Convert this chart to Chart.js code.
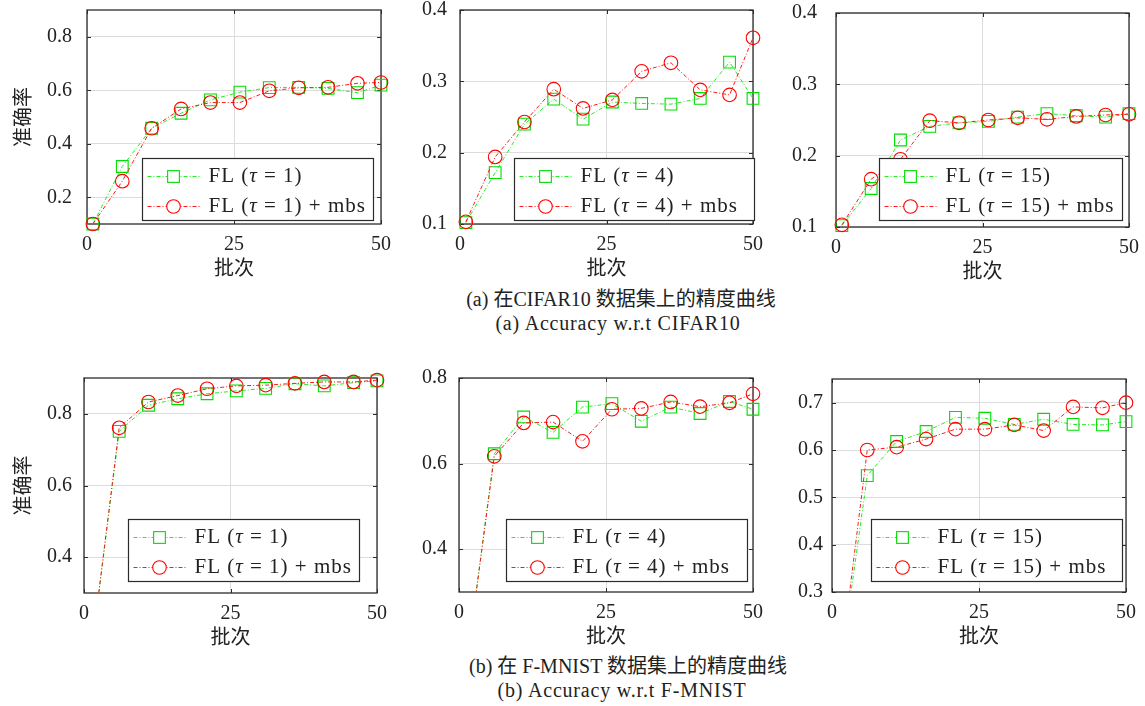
<!DOCTYPE html>
<html><head><meta charset="utf-8">
<script src="https://cdn.jsdelivr.net/npm/chart.js@4.4.1/dist/chart.umd.min.js"></script>
<style>
html,body{margin:0;padding:0;background:#fff;width:1145px;height:706px;overflow:hidden;position:relative}
canvas{position:absolute}
.cap{position:absolute;width:600px;text-align:center;font-size:20px;font-family:'Liberation Serif','Noto Sans CJK SC',serif;color:#222;line-height:24px;white-space:nowrap}
.cap.en{letter-spacing:0.8px}
</style></head><body>
<div class="cap" style="left:321px;top:287px">(a) 在CIFAR10 数据集上的精度曲线</div>
<div class="cap en" style="left:318px;top:311px">(a) Accuracy w.r.t CIFAR10</div>
<div class="cap" style="left:328px;top:654px">(b) 在 F-MNIST 数据集上的精度曲线</div>
<div class="cap en" style="left:322px;top:678px">(b) Accuracy w.r.t F-MNIST</div>
<script>
// ---------- data ----------
const batches = [1, 6, 11, 16, 21, 26, 31, 36, 41, 46, 50];
const xTicks = [0, 25, 50];

const cifarTau1     = [0.100, 0.315, 0.458, 0.514, 0.564, 0.593, 0.610, 0.611, 0.607, 0.591, 0.619];
const cifarTau1Mbs  = [0.100, 0.260, 0.458, 0.530, 0.554, 0.554, 0.598, 0.609, 0.611, 0.626, 0.629];
const cifarTau4     = [0.102, 0.172, 0.240, 0.275, 0.247, 0.271, 0.269, 0.268, 0.276, 0.327, 0.276];
const cifarTau4Mbs  = [0.103, 0.194, 0.243, 0.289, 0.262, 0.274, 0.314, 0.326, 0.288, 0.281, 0.361];
const cifarTau15    = [0.102, 0.154, 0.222, 0.241, 0.246, 0.248, 0.254, 0.259, 0.256, 0.254, 0.259];
const cifarTau15Mbs = [0.103, 0.167, 0.195, 0.249, 0.246, 0.250, 0.253, 0.251, 0.255, 0.257, 0.258];

const fmnistTau1     = [0.100, 0.751, 0.824, 0.842, 0.856, 0.864, 0.871, 0.884, 0.878, 0.887, 0.892];
const fmnistTau1Mbs  = [0.100, 0.761, 0.833, 0.851, 0.870, 0.878, 0.880, 0.885, 0.889, 0.889, 0.894];
const fmnistTau4     = [0.100, 0.623, 0.709, 0.673, 0.732, 0.740, 0.699, 0.732, 0.717, 0.745, 0.727];
const fmnistTau4Mbs  = [0.100, 0.617, 0.695, 0.697, 0.652, 0.727, 0.729, 0.744, 0.733, 0.742, 0.763];
const fmnistTau15    = [0.100, 0.546, 0.618, 0.639, 0.669, 0.667, 0.654, 0.665, 0.654, 0.653, 0.660];
const fmnistTau15Mbs = [0.100, 0.600, 0.606, 0.623, 0.644, 0.644, 0.653, 0.641, 0.691, 0.689, 0.700];

const yTicksCifarTau1   = [0.2, 0.4, 0.6, 0.8];
const yTicksCifarTau4   = [0.1, 0.2, 0.3, 0.4];
const yTicksCifarTau15  = [0.1, 0.2, 0.3, 0.4];
const yTicksFmnistTau1  = [0.4, 0.6, 0.8];
const yTicksFmnistTau4  = [0.4, 0.6, 0.8];
const yTicksFmnistTau15 = [0.3, 0.4, 0.5, 0.6, 0.7];

const tauValues = ['1', '4', '15'];
const xTitle = '批次';
const yTitle = '准确率';

// ---------- layout / style ----------
const SERIF = "'Liberation Serif','Noto Sans CJK SC',serif";
const CJK = "'Noto Sans CJK SC',sans-serif";
const GREEN = '#22ee22', RED = '#ff1a1a', TEXT = '#222', FRAME = '#2b2b2b';
const PAD_TOP = 14, PAD_RIGHT = 16, HX = 60;

const panels = [
  {L:87,  T:10,  R:381,  B:224, yMin:0.1, yMax:0.9,  yTicks:yTicksCifarTau1,   tau:tauValues[0], s1:cifarTau1,   s2:cifarTau1Mbs,   yPad:15, yTitle:true,  leg:{x:55, y:148, w:231, h:62}, clipB:12},
  {L:460, T:10,  R:753,  B:224, yMin:0.1, yMax:0.4,  yTicks:yTicksCifarTau4,   tau:tauValues[1], s1:cifarTau4,   s2:cifarTau4Mbs,   yPad:13, yTitle:false, leg:{x:54, y:148, w:240, h:62}, clipB:12},
  {L:836, T:13,  R:1129, B:227, yMin:0.1, yMax:0.4,  yTicks:yTicksCifarTau15,  tau:tauValues[2], s1:cifarTau15,  s2:cifarTau15Mbs,  yPad:19, yTitle:false, leg:{x:43, y:145, w:243, h:62}, clipB:12},
  {L:84,  T:378, R:377,  B:593, yMin:0.3, yMax:0.9,  yTicks:yTicksFmnistTau1,  tau:tauValues[0], s1:fmnistTau1,  s2:fmnistTau1Mbs,  yPad:12, yTitle:true,  leg:{x:44, y:141, w:231, h:62}, clipB:0},
  {L:459, T:378, R:753,  B:592, yMin:0.3, yMax:0.8,  yTicks:yTicksFmnistTau4,  tau:tauValues[1], s1:fmnistTau4,  s2:fmnistTau4Mbs,  yPad:12, yTitle:false, leg:{x:47, y:141, w:241, h:62}, clipB:0},
  {L:832, T:379, R:1126, B:592, yMin:0.3, yMax:0.75, yTicks:yTicksFmnistTau15, tau:tauValues[2], s1:fmnistTau15, s2:fmnistTau15Mbs, yPad:9,  yTitle:false, leg:{x:39, y:140, w:251, h:62}, clipB:0}
];

Chart.defaults.font.family = SERIF;
Chart.defaults.font.size = 20;
Chart.defaults.color = TEXT;

const framePlugin = {
  id: 'frame',
  beforeDatasetsDraw(chart) {
    const {ctx, chartArea: a, scales: {x, y}} = chart;
    ctx.save();
    ctx.strokeStyle = FRAME;
    ctx.lineWidth = 1;
    ctx.beginPath();
    y.ticks.forEach(t => {
      const py = Math.round(y.getPixelForValue(t.value)) + 0.5;
      ctx.moveTo(a.left, py); ctx.lineTo(a.left + 4, py);
      ctx.moveTo(a.right, py); ctx.lineTo(a.right - 4, py);
    });
    x.ticks.forEach(t => {
      const px = Math.round(x.getPixelForValue(t.value)) + 0.5;
      ctx.moveTo(px, a.bottom); ctx.lineTo(px, a.bottom - 4);
      ctx.moveTo(px, a.top); ctx.lineTo(px, a.top + 4);
    });
    ctx.stroke();
    ctx.lineWidth = 1.3;
    ctx.strokeRect(a.left, a.top, a.right - a.left, a.bottom - a.top);
    ctx.restore();
  }
};

const boxLegend = {
  id: 'boxLegend',
  afterDatasetsDraw(chart, args, o) {
    const {ctx, chartArea: a} = chart;
    const bx = Math.round(a.left + o.x) + 0.5, by = Math.round(a.top + o.y) + 0.5;
    ctx.save();
    ctx.fillStyle = '#fff';
    ctx.fillRect(bx, by, o.w, o.h);
    ctx.strokeStyle = FRAME; ctx.lineWidth = 1.2;
    ctx.strokeRect(bx, by, o.w, o.h);
    const normal = "21px " + SERIF, italic = "italic 21px 'Liberation Serif',serif";
    chart.data.datasets.forEach((ds, i) => {
      const cy = by + 18 + 30 * i;
      ctx.strokeStyle = ds.borderColor; ctx.lineWidth = ds.borderWidth;
      ctx.setLineDash(ds.borderDash);
      ctx.beginPath(); ctx.moveTo(bx + 5, cy); ctx.lineTo(bx + 57, cy); ctx.stroke();
      ctx.setLineDash([]);
      const mx = bx + 31;
      ctx.fillStyle = '#fff';
      ctx.strokeStyle = ds.pointBorderColor; ctx.lineWidth = ds.pointBorderWidth;
      if (ds.pointStyle === 'rect') {
        const s = ds.pointRadius * Math.SQRT1_2;
        ctx.fillRect(mx - s, cy - s, 2 * s, 2 * s);
        ctx.strokeRect(mx - s, cy - s, 2 * s, 2 * s);
      } else {
        ctx.beginPath(); ctx.arc(mx, cy, ds.pointRadius, 0, Math.PI * 2); ctx.fill(); ctx.stroke();
      }
      ctx.fillStyle = TEXT; ctx.textBaseline = 'middle'; ctx.textAlign = 'left';
      if ('letterSpacing' in ctx) ctx.letterSpacing = '1px';
      let tx = bx + 66;
      ds.label.split('τ').forEach((part, k) => {
        if (k > 0) { ctx.font = italic; ctx.fillText('τ', tx, cy); tx += ctx.measureText('τ').width; }
        ctx.font = normal; ctx.fillText(part, tx, cy); tx += ctx.measureText(part).width;
      });
      if ('letterSpacing' in ctx) ctx.letterSpacing = '0px';
    });
    ctx.restore();
  }
};

function buildConfig(p, Wy) {
  const clip = {left: 12, right: 12, top: 12, bottom: p.clipB};
  return {
    type: 'line',
    data: {
      datasets: [
        {label: `FL (τ = ${p.tau})`, data: batches.map((b, i) => ({x: b, y: p.s1[i]})),
         borderColor: GREEN, borderWidth: 1, borderDash: [4, 2, 1, 2], pointStyle: 'rect', pointRadius: 8.3,
         pointBorderColor: '#00dd00', pointBackgroundColor: 'rgba(0,0,0,0)', pointBorderWidth: 1.1,
         tension: 0, fill: false, order: 1, clip},
        {label: `FL (τ = ${p.tau}) + mbs`, data: batches.map((b, i) => ({x: b, y: p.s2[i]})),
         borderColor: RED, borderWidth: 1, borderDash: [4, 2, 1, 2], pointStyle: 'circle', pointRadius: 6.8,
         pointBorderColor: '#ff0000', pointBackgroundColor: 'rgba(0,0,0,0)', pointBorderWidth: 1.1,
         tension: 0, fill: false, order: 0, clip}
      ]
    },
    options: {
      responsive: false, maintainAspectRatio: false, animation: false, events: [],
      layout: {padding: {top: PAD_TOP, right: PAD_RIGHT, left: 0, bottom: 0}},
      plugins: {legend: {display: false}, tooltip: {enabled: false}, boxLegend: p.leg},
      scales: {
        x: {
          type: 'linear', min: 0, max: 50,
          afterFit: s => { s.height = HX; },
          afterBuildTicks: s => { s.ticks = xTicks.map(v => ({value: v})); },
          grid: {color: '#dcdcdc', lineWidth: 1, drawTicks: false},
          border: {display: false},
          ticks: {padding: 9, color: TEXT, font: {family: SERIF, size: 20}, maxRotation: 0, callback: v => String(v)},
          title: {display: true, text: xTitle, color: TEXT, font: {family: CJK, size: 20}, padding: {top: 0, bottom: 5}}
        },
        y: {
          type: 'linear', min: p.yMin, max: p.yMax,
          afterFit: s => { s.width = Wy; },
          afterBuildTicks: s => { s.ticks = p.yTicks.map(v => ({value: v})); },
          grid: {color: '#dcdcdc', lineWidth: 1, drawTicks: false},
          border: {display: false},
          ticks: {padding: p.yPad, color: TEXT, font: {family: SERIF, size: 20}, callback: v => Number(v).toFixed(1)},
          title: {display: p.yTitle, text: yTitle, color: TEXT, font: {family: CJK, size: 20}, padding: {top: 10, bottom: 0}}
        }
      }
    },
    plugins: [framePlugin, boxLegend]
  };
}

function makePanel(p) {
  const Wy = p.yTitle ? p.L : 60;
  let cx = p.L - Wy, cy = p.T - PAD_TOP;
  let w = Wy + (p.R - p.L) + PAD_RIGHT, h = PAD_TOP + (p.B - p.T) + HX;
  let chart = null, cv = null;
  for (let k = 0; k < 3; k++) {
    if (chart) { chart.destroy(); cv.remove(); }
    cv = document.createElement('canvas');
    cv.width = w; cv.height = h;
    cv.style.left = cx + 'px'; cv.style.top = cy + 'px';
    cv.style.width = w + 'px'; cv.style.height = h + 'px';
    document.body.appendChild(cv);
    chart = new Chart(cv, buildConfig(p, Wy));
    const a = chart.chartArea;
    const offL = cx + a.left - p.L, offT = cy + a.top - p.T;
    const offR = cx + a.right - p.R, offB = cy + a.bottom - p.B;
    if (Math.abs(offL) < 0.5 && Math.abs(offT) < 0.5 && Math.abs(offR) < 0.5 && Math.abs(offB) < 0.5) break;
    const rightMargin = w - a.right, bottomMargin = h - a.bottom;
    cx = p.L - a.left; cy = p.T - a.top;
    w = Math.round(a.left + (p.R - p.L) + rightMargin);
    h = Math.round(a.top + (p.B - p.T) + bottomMargin);
  }
  return chart;
}

const charts = panels.map(makePanel);
</script>
</body></html>
